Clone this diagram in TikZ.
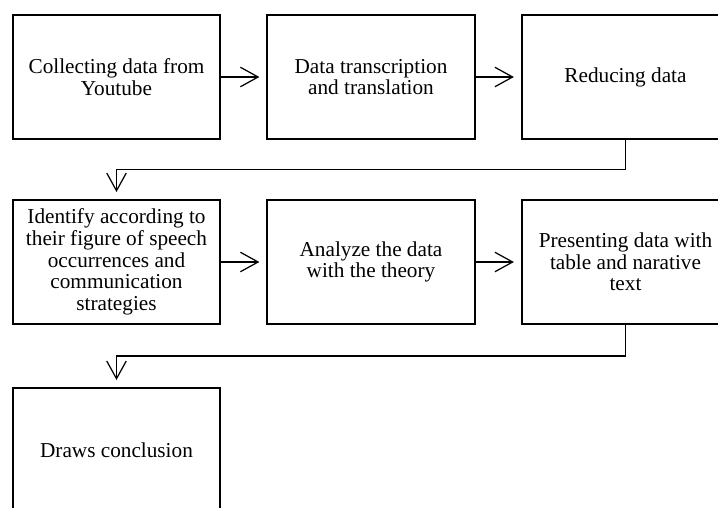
\documentclass[tikz,border=0pt]{standalone}
\usepackage{fontspec}
\setmainfont{Liberation Serif}
\usepackage{tikz}
\usetikzlibrary{calc}
\usetikzlibrary{arrows.meta}
\tikzset{>={Straight Barb[length=10pt,width=11pt]}}
\tikzstyle{stage} = [draw, line width=1.1pt, minimum width=117pt, minimum height=70pt, align=center, inner sep=2pt, font=\fontsize{12}{12.25}\selectfont]
\tikzstyle{flow} = [->, line width=0.7pt, shorten >=4pt]

\begin{document}
\begin{tikzpicture}[x=0.565pt, y=-0.565pt]
\clip (0,0) rectangle (718,507);
\fill [white] (0,0) rectangle (718,507);
% first row
\node [stage] (collect) at (116.5, 77) {Collecting data from\\Youtube};
\node [stage] (transcribe) at (371, 77) {Data transcription\\and translation};
\node [stage] (reduce) at (625.5, 77) {Reducing data};
% second row
\node [stage] (identify) at (116.5, 262) {Identify according to\\their figure of speech\\occurrences and\\communication\\strategies};
\node [stage] (analyze) at (371, 262) {Analyze the data\\with the theory};
\node [stage] (present) at (625.5, 262) {Presenting data with\\table and narative\\text};
% last row
\node [stage] (conclude) at (116.5, 450) {Draws conclusion};

\draw [flow] (collect) -- (transcribe);
\draw [flow] (transcribe) -- (reduce);
\draw [flow] (identify) -- (analyze);
\draw [flow] (analyze) -- (present);
\draw [flow] (reduce.south) -- ($(reduce.south)!.5!(reduce.south |- identify.north)$) -| (identify.north);
\draw [flow] (present.south) -- ($(present.south)!.5!(present.south |- conclude.north)$) -| (conclude.north);
\end{tikzpicture}
\end{document}
